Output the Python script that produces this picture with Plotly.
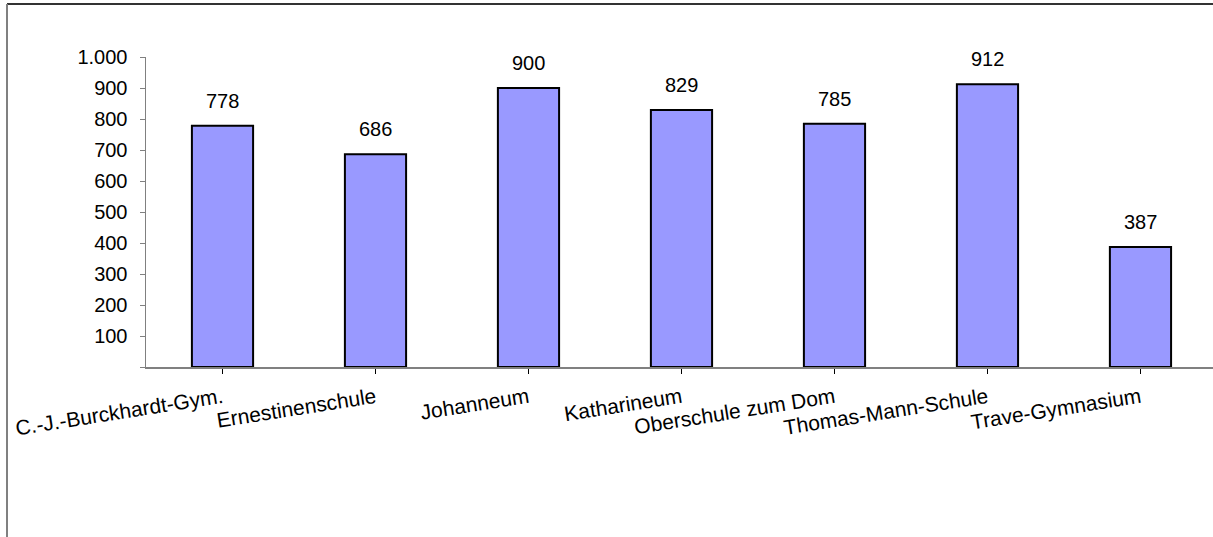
import plotly.graph_objects as go

schools = ["C.-J.-Burckhardt-Gym.", "Ernestinenschule", "Johanneum", "Katharineum",
           "Oberschule zum Dom", "Thomas-Mann-Schule", "Trave-Gymnasium"]
values = [778, 686, 900, 829, 785, 912, 387]
y_tickvals = [0, 100, 200, 300, 400, 500, 600, 700, 800, 900, 1000]
y_ticktext = ["", "100", "200", "300", "400", "500", "600", "700", "800", "900", "1.000"]

FONT = "Liberation Sans, Arial, sans-serif"
FS = 20

fig = go.Figure()
fig.add_trace(go.Bar(
    x=list(range(len(schools))), y=values, width=0.4,
    marker=dict(color="#9999FF", line=dict(color="#000000", width=2)),
    hoverinfo="skip",
))

for i, v in enumerate(values):
    fig.add_annotation(x=i, y=v, text=str(v), showarrow=False, xanchor="center",
                       yanchor="bottom", yshift=12, font=dict(family=FONT, size=FS, color="#000"))

fig.update_layout(
    width=1213, height=537,
    margin=dict(l=146, r=0, t=57, b=170),
    paper_bgcolor="white", plot_bgcolor="white",
    showlegend=False,
    font=dict(family=FONT, size=FS, color="#000"),
    bargap=0.6,
)
fig.update_xaxes(
    range=[-0.5, 6.474], tickmode="array",
    tickvals=list(range(len(schools))), ticktext=schools,
    tickangle=-9, tickson="boundaries",
    ticks="outside", ticklen=5, tickcolor="#000", tickwidth=1,
    showline=True, linecolor="#808080", linewidth=1.5,
    showgrid=False, zeroline=False, ticklabelstandoff=4,
    tickfont=dict(family=FONT, size=21, color="#000"),
)
fig.update_yaxes(
    range=[0, 1000], tickmode="array", tickvals=y_tickvals, ticktext=y_ticktext,
    ticks="outside", ticklen=5, tickcolor="#808080", tickwidth=1,
    showline=True, linecolor="#808080", linewidth=1.5,
    showgrid=False, zeroline=False, ticklabelstandoff=8,
    tickfont=dict(family=FONT, size=FS, color="#000"),
)

# outer chart frame (left and top edges visible)
pw, ph = 1067.0, 310.0
def px(xp): return (xp - 146) / pw
def py(yp): return (367 - yp) / ph
fig.add_shape(type="line", xref="paper", yref="paper",
              x0=px(7), x1=px(1230), y0=py(4), y1=py(4),
              line=dict(color="#333333", width=2))
fig.add_shape(type="line", xref="paper", yref="paper",
              x0=px(7), x1=px(7), y0=py(4), y1=py(560),
              line=dict(color="#808080", width=2))

fig.write_html("out.html", config={"displayModeBar": False, "staticPlot": True})
with open("out.html", encoding="utf-8") as f:
    html = f.read()
html = html.replace("<body>", '<body style="margin:0;padding:0;overflow:hidden">', 1)
with open("out.html", "w", encoding="utf-8") as f:
    f.write(html)
